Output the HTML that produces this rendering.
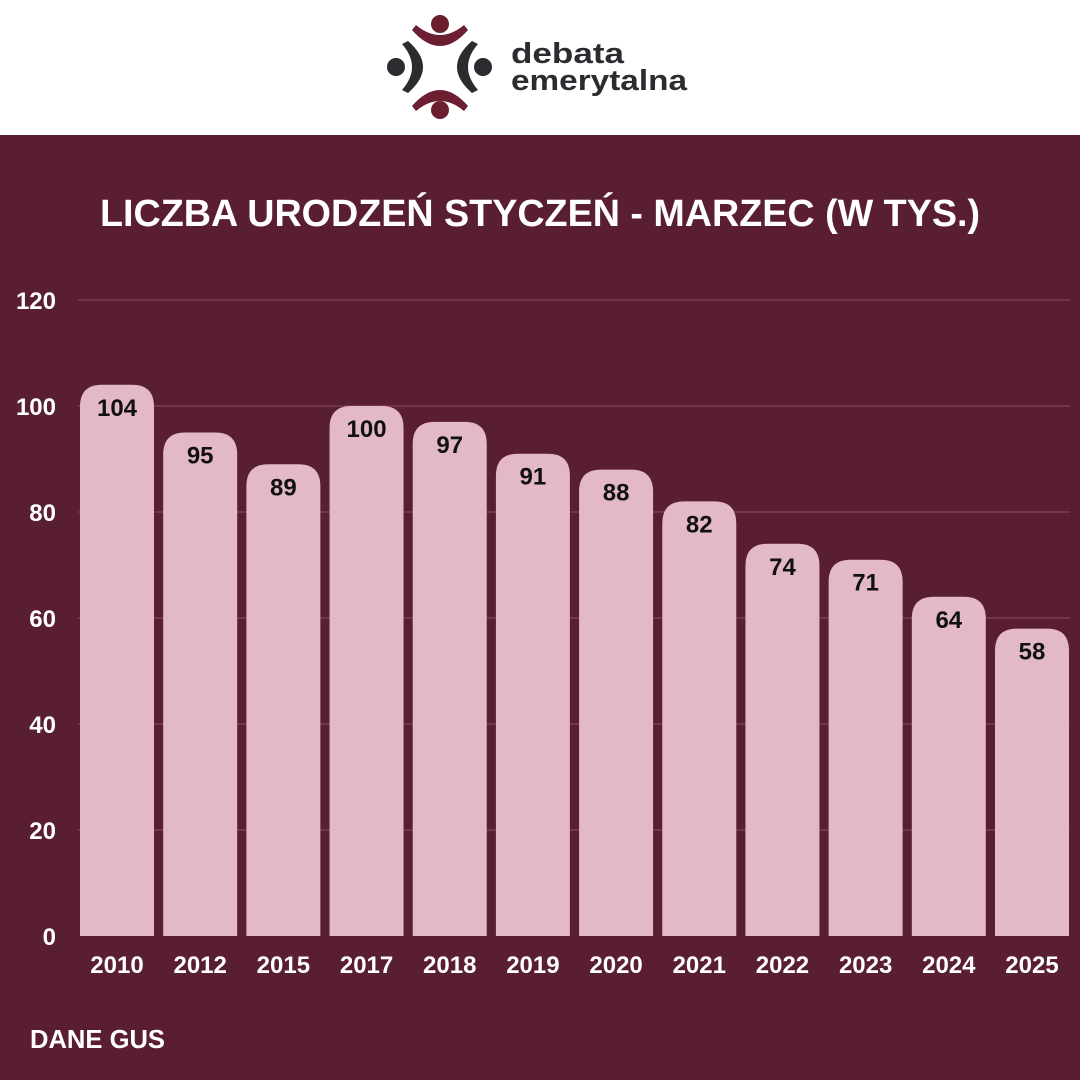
<!DOCTYPE html>
<html><head><meta charset="utf-8"><style>
html,body{margin:0;padding:0;width:1080px;height:1080px;overflow:hidden;background:#5a1e31}
svg{display:block}
text{font-family:"Liberation Sans",sans-serif;font-weight:bold}
</style></head><body>
<svg id="chart" width="1080" height="1080" viewBox="0 0 1080 1080" xmlns="http://www.w3.org/2000/svg">
<rect x="0" y="0" width="1080" height="135" fill="#ffffff"/>
<g>
  <path d="M416 25 Q440 45 464 25 L468 30 Q440 62 412 30 Z" fill="#6b1f30"/>
  <circle cx="440" cy="24" r="9" fill="#6b1f30"/>
  <path d="M416 111 Q440 91 464 111 L468 106 Q440 74 412 106 Z" fill="#6b1f30"/>
  <circle cx="440" cy="110" r="9" fill="#6b1f30"/>
  <path d="M402 44 Q422 67 402 90 L408 93 Q438 67 408 41 Z" fill="#2b2b30"/>
  <circle cx="396" cy="67" r="9" fill="#2b2b30"/>
  <path d="M478 44 Q458 67 478 90 L472 93 Q442 67 472 41 Z" fill="#2b2b30"/>
  <circle cx="483" cy="67" r="9" fill="#2b2b30"/>
  <text x="511" y="63" font-size="29" fill="#2b2b30" textLength="113" lengthAdjust="spacingAndGlyphs">debata</text>
  <text x="511" y="90" font-size="29" fill="#2b2b30" textLength="176" lengthAdjust="spacingAndGlyphs">emerytalna</text>
</g>
<text x="540" y="226" text-anchor="middle" font-size="38" fill="#ffffff" textLength="880" lengthAdjust="spacingAndGlyphs">LICZBA URODZEŃ STYCZEŃ - MARZEC (W TYS.)</text>
<g id="grid"></g><g id="bars"></g><g id="labels"></g>
<text x="30" y="1048" font-size="26" fill="#ffffff" textLength="135" lengthAdjust="spacingAndGlyphs">DANE GUS</text>
</svg>
<script>
const categories=["2010","2012","2015","2017","2018","2019","2020","2021","2022","2023","2024","2025"];
const values=[104,95,89,100,97,91,88,82,74,71,64,58];
const yTicks=[0,20,40,60,80,100,120];
const NS="http://www.w3.org/2000/svg";
const y0=936,yMax=120,pxTop=300;
function y(v){return y0-(v/yMax)*(y0-pxTop);}
function xc(i){return 117+i*(1032-117)/(categories.length-1);}
function mk(tag,attrs,parent){const e=document.createElementNS(NS,tag);for(const k in attrs)e.setAttribute(k,attrs[k]);parent.appendChild(e);return e;}
const grid=document.getElementById('grid'),bars=document.getElementById('bars'),labels=document.getElementById('labels');
yTicks.forEach(t=>{
  if(t>0){const l=mk('line',{x1:78,x2:1070,y1:y(t),y2:y(t),stroke:'#8a4d5f','stroke-width':1},grid);
  
  }
  const tx=mk('text',{x:56,y:y(t)+9,'text-anchor':'end','font-size':24,fill:'#ffffff'},grid);
  tx.textContent=t;
  
  
});
const bw=74,r=22;
values.forEach((v,i)=>{
  const x=xc(i)-bw/2,top=y(v),b=y0;
  const p=mk('path',{d:`M${x} ${b} L${x} ${top+r} Q${x} ${top} ${x+r} ${top} L${x+bw-r} ${top} Q${x+bw} ${top} ${x+bw} ${top+r} L${x+bw} ${b} Z`,fill:'#e3b9c5'},bars);
  
  
  const vl=mk('text',{x:xc(i),y:top+31,'text-anchor':'middle','font-size':24,fill:'#111111'},labels);
  vl.textContent=v;
  
  
  const cl=mk('text',{x:xc(i),y:973,'text-anchor':'middle','font-size':24,fill:'#ffffff'},labels);
  cl.textContent=categories[i];
  
  
});
</script>
</body></html>
